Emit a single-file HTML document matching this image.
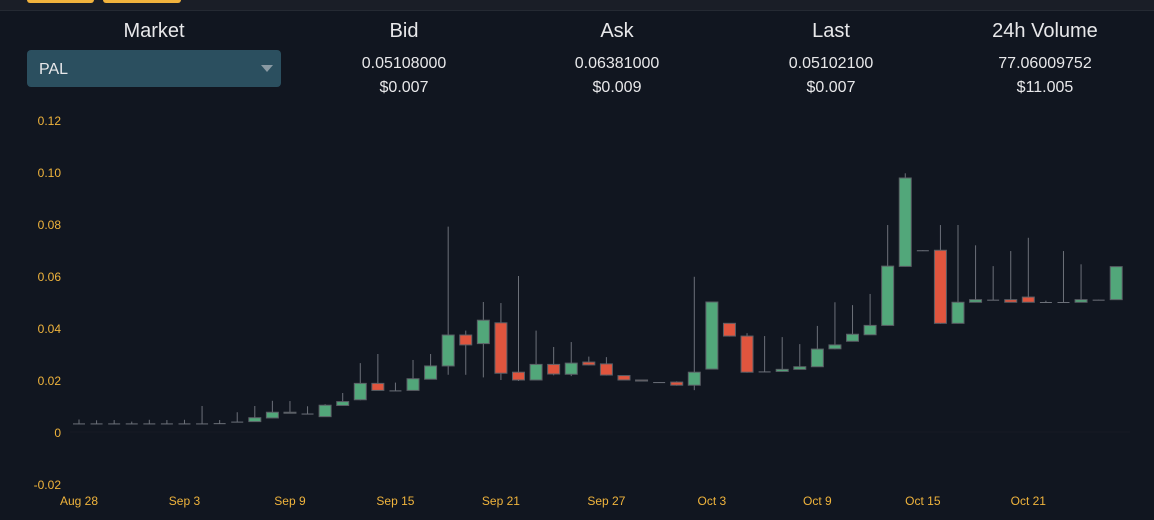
<!DOCTYPE html>
<html><head><meta charset="utf-8"><style>
body{margin:0;width:1154px;height:520px;background:#111620;overflow:hidden;font-family:"Liberation Sans",sans-serif;position:relative}
.topbar{position:absolute;left:0;top:0;width:1154px;height:10px;background:#1a1e27;border-bottom:1px solid #252a33}
.btn{position:absolute;top:-6px;height:9px;background:#f2b33d;border-radius:3px}
.col{position:absolute;width:220px;text-align:center;color:#e8e8ea}
.h{top:20px;font-size:20px}
.v1{top:55px;font-size:16px}
.v2{top:79px;font-size:16px}
.dd{position:absolute;left:27px;top:50px;width:254px;height:37px;background:#2b4f5f;border-radius:4px;color:#e8e8ea;font-size:16px}
.dd span{position:absolute;left:12px;top:11px}
.arrow{position:absolute;right:8px;top:15px;width:0;height:0;border-left:6px solid transparent;border-right:6px solid transparent;border-top:7px solid #8a9aa3}
svg{position:absolute;left:0;top:0}
</style></head><body>
<div class="topbar">
<div class="btn" style="left:27px;width:67px"></div>
<div class="btn" style="left:103px;width:78px"></div>
</div>
<div class="col h" style="left:44px">Market</div>
<div class="dd"><span>PAL</span><div class="arrow"></div></div>
<div class="col h" style="left:294px">Bid</div>
<div class="col v1" style="left:294px">0.05108000</div>
<div class="col v2" style="left:294px">$0.007</div>
<div class="col h" style="left:507px">Ask</div>
<div class="col v1" style="left:507px">0.06381000</div>
<div class="col v2" style="left:507px">$0.009</div>
<div class="col h" style="left:721px">Last</div>
<div class="col v1" style="left:721px">0.05102100</div>
<div class="col v2" style="left:721px">$0.007</div>
<div class="col h" style="left:935px">24h Volume</div>
<div class="col v1" style="left:935px">77.06009752</div>
<div class="col v2" style="left:935px">$11.005</div>
<svg id="chart" width="1154" height="520"></svg>
<script>
const yTicks=[0.12,0.10,0.08,0.06,0.04,0.02,0,-0.02];
const yTickLabels=["0.12","0.10","0.08","0.06","0.04","0.02","0","-0.02"];
const xTickIdx=[0,6,12,18,24,30,36,42,48,54];
const xTickLabels=["Aug 28","Sep 3","Sep 9","Sep 15","Sep 21","Sep 27","Oct 3","Oct 9","Oct 15","Oct 21"];
const opens=[.0033,.0033,.0033,.0033,.0033,.0033,.0033,.0033,.0033,.004,.004,.0054,.0076,.0071,.0059,.0102,.0124,.0187,.016,.016,.0203,.0254,.0373,.034,.042,.023,.020,.026,.0222,.0269,.0262,.0217,.020,.0192,.0192,.018,.0242,.0418,.0369,.0233,.0233,.0241,.0251,.032,.0349,.0374,.041,.0637,.0699,.0699,.0418,.0499,.0509,.0509,.0519,.050,.050,.0499,.0509,.0509];
const closes=[.0033,.0033,.0033,.0033,.0033,.0033,.0033,.0033,.0034,.004,.0055,.0076,.0073,.0071,.0103,.0117,.0187,.016,.016,.0205,.0254,.0373,.0335,.043,.0226,.020,.026,.0223,.0265,.0258,.0219,.020,.0196,.0192,.018,.023,.050,.0369,.023,.0233,.0241,.0251,.0319,.0335,.0376,.041,.0638,.0977,.0699,.0418,.0499,.0509,.0509,.0499,.0499,.050,.050,.0509,.0509,.0636];
const highs=[.0048,.0045,.0046,.004,.0047,.0046,.0047,.010,.0046,.0076,.010,.012,.0119,.0099,.0107,.015,.0265,.030,.019,.0277,.030,.079,.039,.050,.0496,.060,.039,.0327,.0346,.029,.0288,.0217,.020,.0192,.0195,.0597,.050,.0418,.038,.0369,.0365,.0338,.0408,.0499,.0488,.0531,.0796,.0995,.0699,.0796,.0796,.0718,.0638,.0696,.0747,.0505,.0696,.0645,.0509,.0636];
const lows=[.0032,.0032,.0032,.0032,.0032,.0032,.0032,.0032,.0032,.0039,.004,.0053,.0072,.007,.0059,.0101,.0122,.016,.0159,.016,.0202,.022,.022,.021,.020,.0196,.020,.0218,.0215,.0256,.0217,.0199,.0195,.0191,.0178,.0161,.0242,.0367,.0228,.0232,.0232,.024,.025,.0318,.0348,.0373,.0409,.0636,.0698,.0416,.0417,.0498,.0508,.0498,.0498,.0499,.0499,.0498,.0508,.0508];
const svg=document.getElementById('chart');
const NS='http://www.w3.org/2000/svg';
function yScale(v){return 432-v*2600;}
function xScale(i){return 79+i*17.58;}
function mk(t,a){const e=document.createElementNS(NS,t);for(const k in a)e.setAttribute(k,a[k]);svg.appendChild(e);return e;}
yTicks.forEach((v,i)=>{
  const t=mk('text',{x:61,y:yScale(v)+5,'text-anchor':'end','font-size':12,fill:'#f0b43c','font-family':'Liberation Sans, sans-serif'});
  t.textContent=yTickLabels[i];
  
  
});
const zl=mk('line',{x1:70,x2:1130,y1:yScale(0),y2:yScale(0),stroke:'#161b25','stroke-width':1});


xTickIdx.forEach((idx,i)=>{
  const t=mk('text',{x:xScale(idx),y:505,'text-anchor':'middle','font-size':12,fill:'#f0b43c','font-family':'Liberation Sans, sans-serif'});
  t.textContent=xTickLabels[i];
  
  
});
opens.forEach((o,i)=>{
  const c=closes[i],x=xScale(i);
  const w=mk('line',{x1:x,x2:x,y1:yScale(highs[i]),y2:yScale(lows[i]),stroke:'#6c7079','stroke-width':1});
  
  
  const up=c>o, flat=Math.abs(c-o)<0.0002;
  const top=yScale(Math.max(o,c)),bot=yScale(Math.min(o,c));
  const h=Math.max(bot-top,1);
  const fill=flat?'#6c7079':(up?'#52a77a':'#e0553e');
  const r=mk('rect',{x:x-6,y:top,width:12,height:h,fill:fill,stroke:flat?'none':'#5b5f66','stroke-width':flat?0:1});
  
  
});
</script>
</body></html>
